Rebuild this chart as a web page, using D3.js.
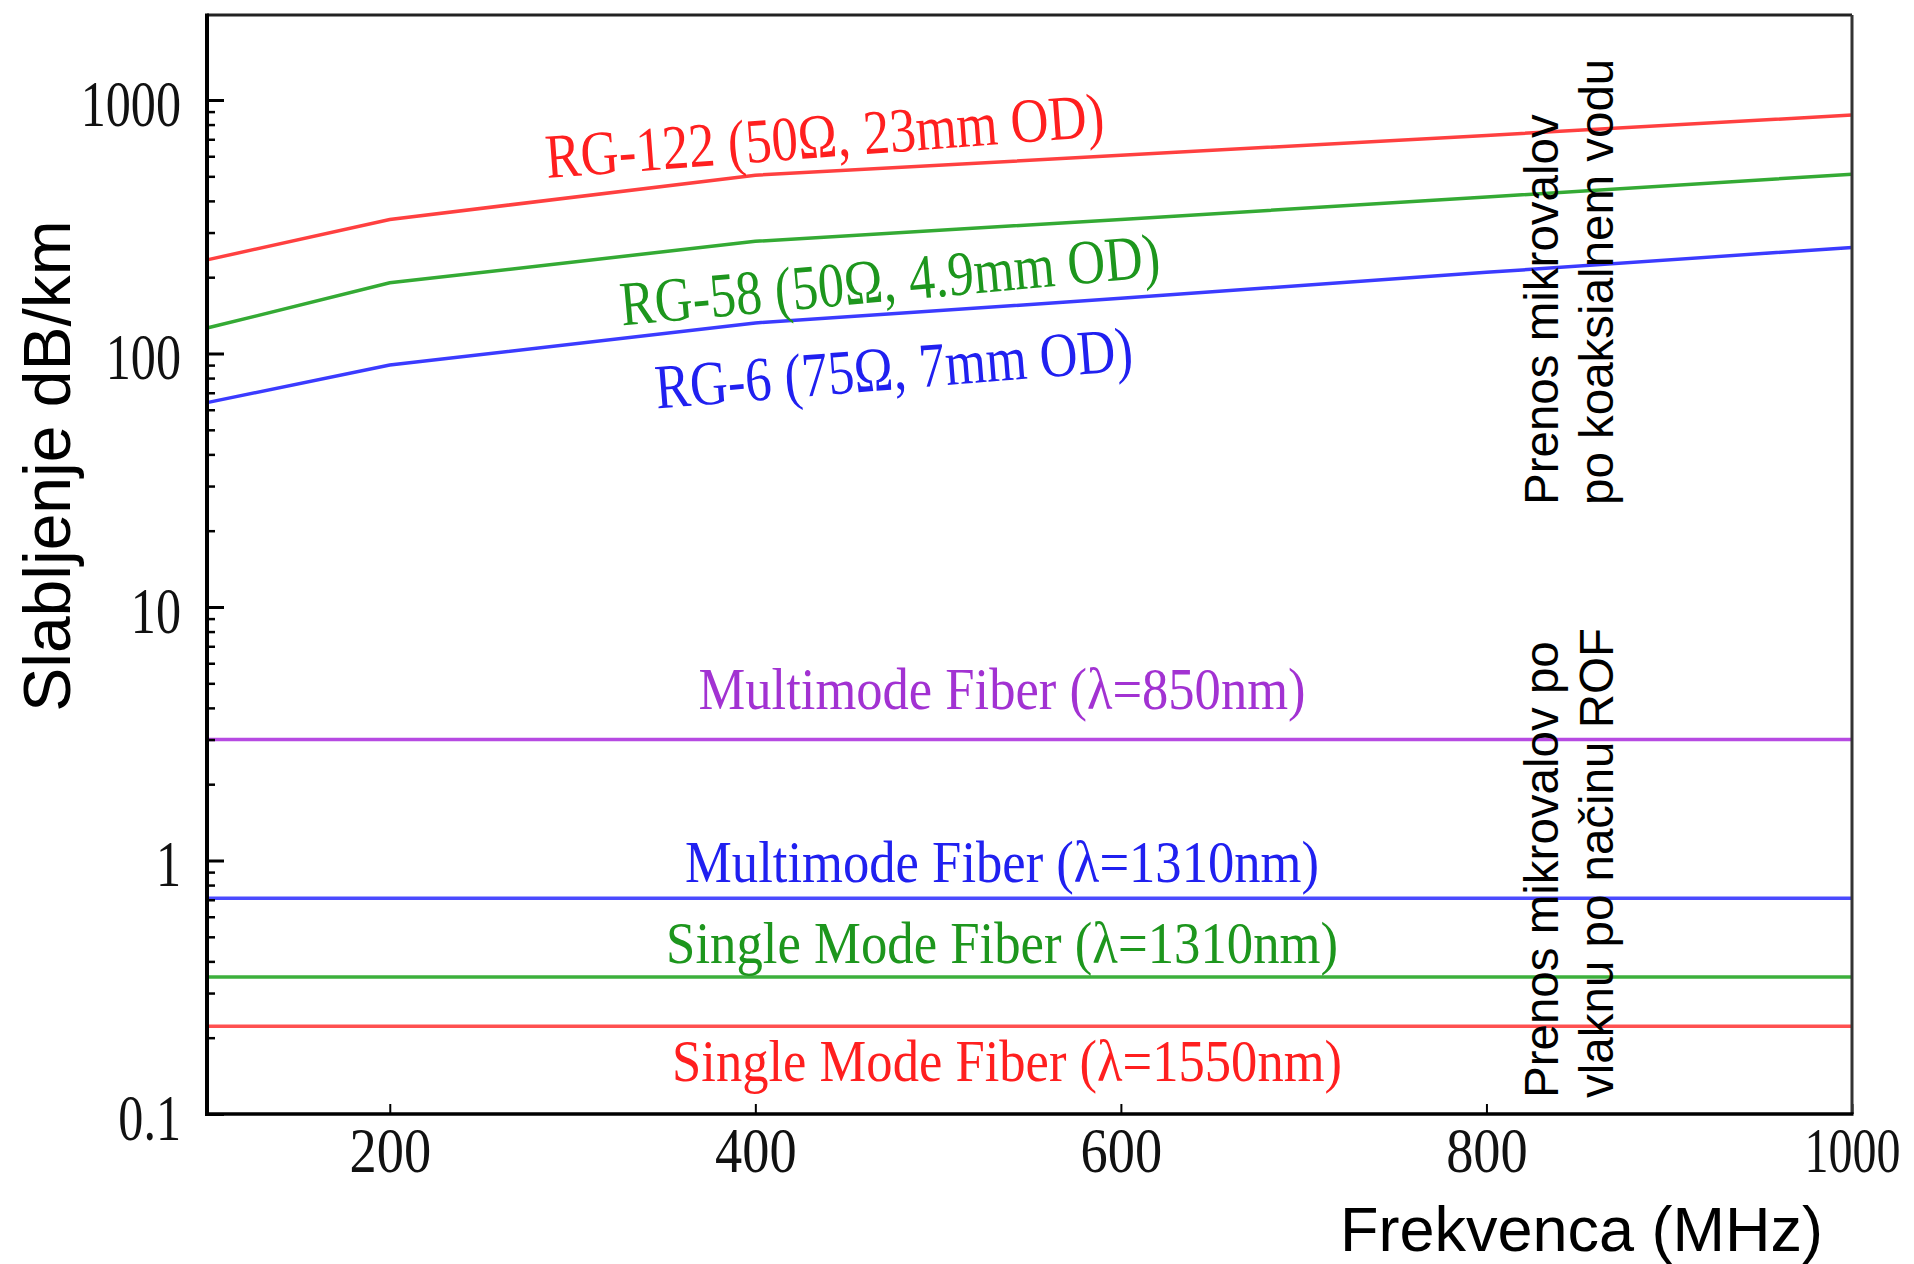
<!DOCTYPE html>
<html>
<head>
<meta charset="utf-8">
<script src="https://cdn.jsdelivr.net/npm/d3@7"></script>
<style>
  body { margin: 0; background: #fff; }
  .serif { font-family: "Liberation Serif", "Times New Roman", serif; }
  .sans { font-family: "Liberation Sans", Arial, sans-serif; }
</style>
</head>
<body>
<div id="chart"></div>
<script>
// frequency axis (MHz)
const freq = [100, 200, 400, 600, 800, 1000];

// coax attenuation, dB/km
const rg122 = [234, 338, 505, 605, 725, 872];
const rg58 = [126, 190, 277, 338, 414, 510];
const rg6 = [64, 90, 132, 165, 209, 262];

// fibre attenuation, dB/km (flat over band)
const fiberFreq = [100, 1000];
const mmf850 = [3.0, 3.0];
const mmf1310 = [0.71, 0.71];
const smf1310 = [0.347, 0.347];
const smf1550 = [0.222, 0.222];

const xTicks = [200, 400, 600, 800, 1000];
const yTicks = [0.1, 1, 10, 100, 1000];
const yTickLabels = ['0.1', '1', '10', '100', '1000'];

const coax = [
    {name: 'RG-122 (50Ω, 23mm OD)', values: rg122, line: '#ff4040', text: '#ff1f1f'},
    {name: 'RG-58 (50Ω, 4.9mm OD)', values: rg58, line: '#34aa34', text: '#1d961d'},
    {name: 'RG-6 (75Ω, 7mm OD)', values: rg6, line: '#3b3bff', text: '#2020f0'}
];
const fiber = [
    {name: 'Multimode Fiber (λ=850nm)', values: mmf850, line: '#b64ae2', text: '#a232d2'},
    {name: 'Multimode Fiber (λ=1310nm)', values: mmf1310, line: '#4a4aff', text: '#2020f0'},
    {name: 'Single Mode Fiber (λ=1310nm)', values: smf1310, line: '#3cb03c', text: '#1d961d'},
    {name: 'Single Mode Fiber (λ=1550nm)', values: smf1550, line: '#ff5050', text: '#ff1f1f'}
];

const W = 1914, H = 1264;
const plot = {left: 207, right: 1852, top: 15, bottom: 1114};

const svg = d3.select('#chart')
    .append('svg')
        .attr('width', W)
        .attr('height', H);

const x = d3.scaleLinear().domain([100, 1000]).range([plot.left, plot.right]);
const y = d3.scaleLog().domain([0.1, 1000]).range([plot.bottom, 100]);

// squeeze text horizontally (the source figure is stretched vertically)
const squeeze = (sel, k) => sel.each(function (d) {
    const f = typeof k === 'function' ? k(d) : k;
    const w = this.getComputedTextLength();
    this.setAttribute('textLength', w * f);
    this.setAttribute('lengthAdjust', 'spacingAndGlyphs');
});

// lines
const line = (xs) => d3.line().x((d, i) => x(xs[i])).y(d => y(d));

coax.forEach(s => {
    svg.append('path')
        .datum(s.values)
        .attr('fill', 'none')
        .attr('stroke', s.line)
        .attr('stroke-width', 3.5)
        .attr('d', line(freq));
});
fiber.forEach(s => {
    svg.append('path')
        .datum(s.values)
        .attr('fill', 'none')
        .attr('stroke', s.line)
        .attr('stroke-width', 3.5)
        .attr('d', line(fiberFreq));
});

// y axis: major + minor ticks pointing inward
const yMinor = [];
for (let e = -1; e < 3; e++) {
    for (let m = 2; m <= 9; m++) yMinor.push(m * Math.pow(10, e));
}
const yAxis = svg.append('g')
    .attr('transform', `translate(${plot.left},0)`)
    .call(d3.axisLeft(y).tickValues(yTicks).tickSize(-17).tickSizeOuter(0).tickPadding(26)
        .tickFormat((d, i) => yTickLabels[i]));
yAxis.select('.domain').remove();
yAxis.selectAll('line').attr('stroke', '#000').attr('stroke-width', 3);
yAxis.selectAll('text')
    .attr('class', 'serif')
    .attr('font-size', 66)
    .attr('fill', '#111')
    .attr('dy', '0.38em')
    .call(squeeze, 0.76);

const yAxisMinor = svg.append('g')
    .attr('transform', `translate(${plot.left},0)`)
    .call(d3.axisLeft(y).tickValues(yMinor).tickSize(-8).tickSizeOuter(0).tickFormat(''));
yAxisMinor.select('.domain').remove();
yAxisMinor.selectAll('line').attr('stroke', '#000').attr('stroke-width', 2.5);

// x axis
const xAxis = svg.append('g')
    .attr('transform', `translate(0,${plot.bottom})`)
    .call(d3.axisBottom(x).tickValues(xTicks).tickSize(-10).tickSizeOuter(0).tickPadding(12)
        .tickFormat(d3.format('d')));
xAxis.select('.domain').remove();
xAxis.selectAll('line').attr('stroke', '#000').attr('stroke-width', 2);
xAxis.selectAll('text')
    .attr('class', 'serif')
    .attr('font-size', 64)
    .attr('fill', '#111')
    .attr('dy', 0)
    .attr('y', 58)
    .call(squeeze, d => d >= 1000 ? 0.75 : 0.85);

// frame
svg.append('line')
    .attr('x1', plot.left).attr('x2', plot.right)
    .attr('y1', plot.top).attr('y2', plot.top)
    .attr('stroke', '#222').attr('stroke-width', 3);
svg.append('line')
    .attr('x1', plot.right).attr('x2', plot.right)
    .attr('y1', plot.top).attr('y2', plot.bottom)
    .attr('stroke', '#333').attr('stroke-width', 3);
svg.append('line')
    .attr('x1', plot.left).attr('x2', plot.left)
    .attr('y1', plot.top - 1.5).attr('y2', plot.bottom + 2)
    .attr('stroke', '#000').attr('stroke-width', 4);
svg.append('line')
    .attr('x1', plot.left - 2).attr('x2', plot.right + 1.5)
    .attr('y1', plot.bottom).attr('y2', plot.bottom)
    .attr('stroke', '#000').attr('stroke-width', 3.5);

// coax labels (rotated along the curves)
const coaxLabels = [
    {at: [286, 492], angle: -4.3, len: 560},
    {at: [327, 129], angle: -5.2, len: 542},
    {at: [346, 60.7], angle: -4.6, len: 479}
];
coax.forEach((s, i) => {
    const l = coaxLabels[i];
    svg.append('text')
        .attr('class', 'serif')
        .attr('transform', `translate(${x(l.at[0])},${y(l.at[1])}) rotate(${l.angle})`)
        .attr('font-size', 63)
        .attr('fill', s.text)
        .attr('textLength', l.len)
        .attr('lengthAdjust', 'spacingAndGlyphs')
        .text(s.name);
});

// fibre labels, offset from their lines
const fiberLabels = [
    {dy: -31, len: 607},
    {dy: -16, len: 634},
    {dy: -14, len: 672},
    {dy: 55, len: 670}
];
fiber.forEach((s, i) => {
    const l = fiberLabels[i];
    svg.append('text')
        .attr('class', 'serif')
        .attr('x', x(535) + (i === 3 ? 5 : 0) - l.len / 2)
        .attr('y', y(s.values[0]) + l.dy)
        .attr('font-size', 60)
        .attr('fill', s.text)
        .attr('textLength', l.len)
        .attr('lengthAdjust', 'spacingAndGlyphs')
        .text(s.name);
});

// axis titles
svg.append('text')
    .attr('class', 'sans')
    .attr('transform', 'translate(70,466) rotate(-90)')
    .attr('text-anchor', 'middle')
    .attr('font-size', 66)
    .attr('fill', '#000')
    .text('Slabljenje dB/km');

svg.append('text')
    .attr('class', 'sans')
    .attr('x', 1340)
    .attr('y', 1251)
    .attr('font-size', 63)
    .attr('fill', '#000')
    .text('Frekvenca (MHz)');

// side notes
const notes = [
    {y: 505, lines: ['Prenos mikrovalov', 'po koaksialnem vodu']},
    {y: 1098, lines: ['Prenos mikrovalov po', 'vlaknu po načinu ROF']}
];
notes.forEach(n => {
    n.lines.forEach((t, j) => {
        svg.append('text')
            .attr('class', 'sans')
            .attr('transform', `translate(${1558 + j * 55},${n.y}) rotate(-90)`)
            .attr('font-size', 47.5)
            .attr('fill', '#000')
            .text(t);
    });
});
</script>
</body>
</html>
